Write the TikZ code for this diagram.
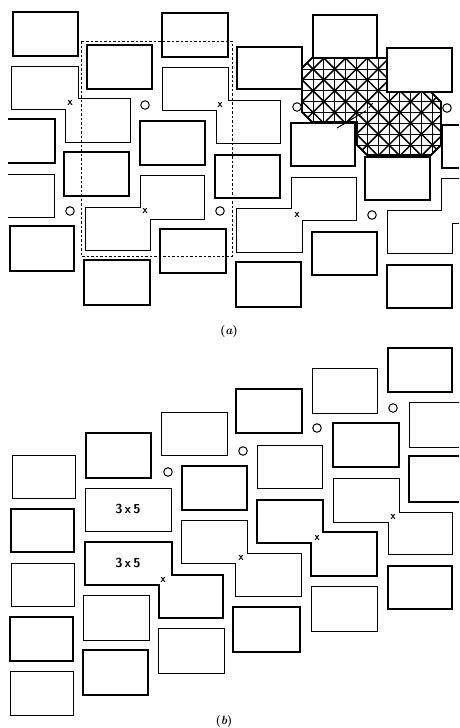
\documentclass[tikz,border=0pt]{standalone}
\usetikzlibrary{math}
\begin{document}
\begin{tikzpicture}[x=1pt,y=-1pt,
  thickbox/.style={line width=1.8pt},
  thinbox/.style={line width=1pt},
  sheet/.style={line width=0.9pt,dash pattern=on 2.5pt off 2pt},
  gridline/.style={line width=0.9pt},
  hatchline/.style={line width=1.5pt},
  hole/.style={circle,draw,line width=1pt,minimum size=8.5pt,inner sep=0pt},
  xmark/.style={font=\sffamily\bfseries\fontsize{11}{11}\selectfont,inner sep=0pt},
  sizetag/.style={font=\sffamily\bfseries\fontsize{13}{13}\selectfont,inner sep=0pt},
  caption/.style={font=\bfseries\fontsize{12}{12}\selectfont,inner sep=0pt}]
\tikzmath{
\d=21.7;
}
\useasboundingbox (0,0) rectangle (459,728);

% (a) hatched patch
\begin{scope}
\clip (312,58) -- (387,58) -- (387,92) -- (431,92) -- (441,102) -- (441,145)
  -- (431,155) -- (367,155) -- (357,145) -- (357,122) -- (312,122) -- (302,112)
  -- (302,68) -- cycle;
\foreach \k in {-12,...,16}
  \draw[gridline] (313+\k*\d/2,40) -- ++(0,130);
\foreach \k in {-8,...,12}
  \draw[gridline] (290,69+\k*\d/2) -- ++(170,0);
\foreach \k in {-6,...,8}
  \draw[hatchline] (244+\k*\d+40,40) -- ++(130,130);
\foreach \k in {-3,...,12}
  \draw[hatchline] (382+\k*\d-40,40) -- ++(-130,130);
\end{scope}
\draw[thickbox] (312,58) -- (387,58) -- (387,92) -- (431,92) -- (441,102) -- (441,145)
  -- (431,155) -- (367,155) -- (357,145) -- (357,122) -- (312,122) -- (302,112)
  -- (302,68) -- cycle;

% (a) blocks
\foreach \xa/\ya/\xb/\yb in {13/12/78/56, 10/226/74/271, 87/45/152/89, 64/152/129/196,
  84/260/150/305, 162/13/228/57, 140/121/205/165, 215/155/280/198, 160/229/226/273,
  237/47/302/89, 313/15/377/58, 387/48/452/92, 291/123/355/166, 365/157/430/200,
  236/262/301/307, 312/232/377/275, 387/265/452/308}
  \draw[thickbox] (\xa,\ya) rectangle (\xb,\yb);
\draw[thickbox] (8,119) -- (55,119) -- (55,163) -- (8,163);
\draw[thickbox] (459,125) -- (442,125) -- (442,168) -- (459,168);
\draw[thinbox] (8,174) -- (54,174) -- (54,217) -- (8,217);
\draw[thinbox] (11,66) -- (78,66) -- (78,98) -- (130,98) -- (130,142) -- (65,142) -- (65,109) -- (11,109) -- cycle;
\draw[thinbox] (140,175) -- (204,175) -- (204,219) -- (150,219) -- (150,250) -- (85,250) -- (85,207) -- (140,207) -- cycle;
\draw[thinbox] (162,67) -- (228,67) -- (228,100) -- (280,100) -- (280,143) -- (216,143) -- (216,110) -- (162,110) -- cycle;
\draw[thinbox] (291,177) -- (356,177) -- (356,220) -- (302,220) -- (302,252) -- (236,252) -- (236,208) -- (291,208) -- cycle;
\draw[thinbox] (459,178) -- (441,178) -- (441,210) -- (387,210) -- (387,253) -- (452,253) -- (452,223) -- (459,223);
\draw[sheet] (81,41) rectangle (232,256);

\node[xmark] (xa1) at (70,103) {x};
\node[xmark] (xa2) at (145,211) {x};
\node[xmark] (xa3) at (220,105) {x};
\node[xmark] (xa4) at (297,215) {x};
\node[xmark] (xa5) at (371,106) {x};
\node[hole] (oa1) at (145,105) {};
\node[hole] (oa2) at (70,211) {};
\node[hole] (oa3) at (220,211) {};
\node[hole] (oa4) at (297,107) {};
\node[hole] (oa5) at (372,215) {};
\node[hole] (oa6) at (447,108) {};
\coordinate (tail) at (337,128);
\draw[thinbox] (xa5.south west) ++(-2,2) -- (tail);
\node[caption] (capa) at (229,332) {(\textit{a})};

% (b) blocks
\foreach \xa/\ya/\xb/\yb in {11/509/74/552, 10/617/73/661, 86/433/151/478, 83/650/148/695,
  182/466/247/510, 236/389/302/433, 233/607/300/652, 333/423/399/467, 388/348/452/392,
  388/566/452/609}
  \draw[thickbox] (\xa,\ya) rectangle (\xb,\yb);
\foreach \xa/\ya/\xb/\yb in {12/455/75/498, 11/563/74/606, 10/671/73/715, 85/488/171/531,
  83/595/149/640, 161/412/227/455, 158/628/224/673, 257/445/322/488, 312/368/377/413,
  311/586/377/631}
  \draw[thinbox] (\xa,\ya) rectangle (\xb,\yb);
\draw[thickbox] (459,456) -- (409,456) -- (409,502) -- (459,502);
\draw[thinbox] (459,402) -- (409,402) -- (409,447) -- (459,447);
\draw[thickbox] (85,542) -- (172,542) -- (172,575) -- (223,575) -- (223,618) -- (159,618) -- (159,585) -- (85,585) -- cycle;
\draw[thinbox] (181,520) -- (247,520) -- (247,553) -- (301,553) -- (301,596) -- (235,596) -- (235,563) -- (181,563) -- cycle;
\draw[thickbox] (257,500) -- (323,500) -- (323,532) -- (377,532) -- (377,576) -- (311,576) -- (311,543) -- (257,543) -- cycle;
\draw[thinbox] (333,478) -- (399,478) -- (399,512) -- (452,512) -- (452,554) -- (388,554) -- (388,522) -- (333,522) -- cycle;

\node[sizetag] (tag1) at (128,509) {3\,x\,5};
\node[sizetag] (tag2) at (128,563) {3\,x\,5};
\node[xmark] (xb1) at (163,580) {x};
\node[xmark] (xb2) at (241,558) {x};
\node[xmark] (xb3) at (317,538) {x};
\node[xmark] (xb4) at (393,517) {x};
\node[hole] (ob1) at (168,472) {};
\node[hole] (ob2) at (243,451) {};
\node[hole] (ob3) at (317,428) {};
\node[hole] (ob4) at (393,408) {};
\node[caption] (capb) at (224,721) {(\textit{b})};
\end{tikzpicture}
\end{document}
